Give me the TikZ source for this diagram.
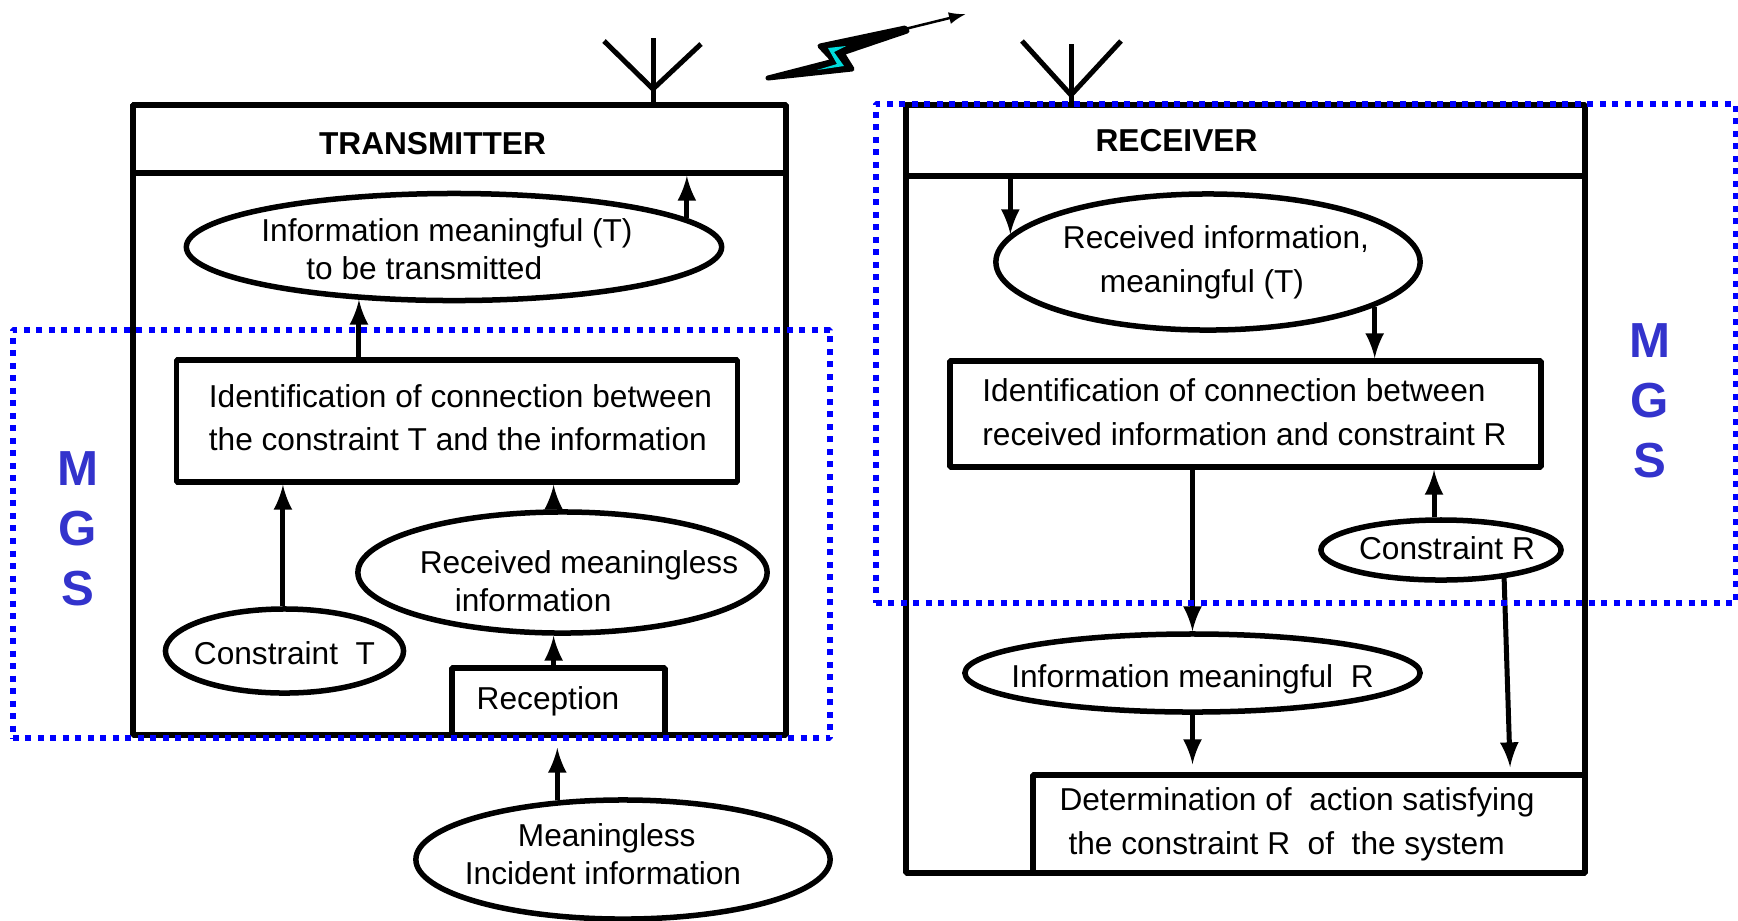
\documentclass[tikz,border=0pt]{standalone}
\usepackage{fontspec}
\setmainfont{Liberation Sans}
\usetikzlibrary{shapes.geometric,arrows.meta}
\definecolor{mgsblue}{RGB}{51,51,204}
\definecolor{boltcyan}{RGB}{0,220,220}

\tikzset{
  txt/.style={font=\fontsize{9}{11}\selectfont,align=left},
  casebox/.style={draw,line width=0.065cm,rectangle,inner sep=0pt},
  headbox/.style={casebox,line width=0.055cm,font=\fontsize{9}{11}\bfseries\selectfont},
  stepbox/.style={txt,draw,line width=0.055cm,rectangle,inner sep=0pt},
  ovalbox/.style={txt,draw,line width=0.055cm,ellipse,inner sep=-10pt},
  flow/.style={black,->,line width=0.05cm},
  antenna/.style={line width=0.05cm},
  mgsbox/.style={draw=blue,line width=0.055cm,rectangle,dash pattern=on 0.06cm off 0.065cm,inner sep=0pt},
  mgsmark/.style={text=mgsblue,align=center,font=\fontsize{14}{17}\bfseries\selectfont},
}

\begin{document}
\begin{tikzpicture}[>=latex,line join=bevel,x=0.01cm,y=-0.01cm]
%%
  \useasboundingbox (0,0) rectangle (1738,920);

  % transmitter
  \node (tx_box) at (459.5,420) [casebox,minimum width=6.53cm,minimum height=6.30cm] {};
  \node (tx_head) at (459.5,139) [headbox,minimum width=6.53cm,minimum height=0.68cm] {\rule{0pt}{0.32cm}TRANSMITTER\hspace*{0.54cm}};

  \node (tx_info) at (454,247) [ovalbox,minimum width=5.35cm,minimum height=1.07cm] {\rule{0pt}{0.275cm}Information meaningful (T)\hspace*{0.14cm}\\ \hspace*{0.45cm}to be transmitted};

  \node (ident_t) at (457,421) [stepbox,minimum width=5.61cm,minimum height=1.22cm] {\hspace*{0.07cm}Identification of connection between\\[0.05cm] \hspace*{0.07cm}the constraint T and the information\rule[-0.07cm]{0pt}{0.07cm}};

  \node (recv_ml) at (562.5,572.5) [ovalbox,minimum width=4.09cm,minimum height=1.21cm] {\rule{0pt}{0.4cm}\hspace*{0.33cm}Received meaningless\\ \hspace*{0.68cm}information};

  \node (constraint_t) at (284.5,651) [ovalbox,minimum width=2.38cm,minimum height=0.84cm] {\rule{0pt}{0.275cm}Constraint\ \ T};

  \node (reception) at (558.5,701.5) [stepbox,minimum width=2.13cm,minimum height=0.67cm] {Reception\hspace*{0.21cm}};

  \node (incident) at (623,859.5) [ovalbox,minimum width=4.14cm,minimum height=1.19cm] {\hspace*{0.53cm}Meaningless\\ Incident information\hspace*{0.4cm}\rule[-0.11cm]{0pt}{0.11cm}};

  % receiver
  \node (rx_box) at (1245.5,489) [casebox,minimum width=6.79cm,minimum height=7.68cm] {};
  \node (rx_head) at (1245.5,140.5) [headbox,minimum width=6.79cm,minimum height=0.71cm] {RECEIVER\hspace*{1.38cm}};

  \node (recv_info) at (1208,262) [ovalbox,minimum width=4.24cm,minimum height=1.36cm] {\hspace*{0.16cm}Received information,\\[0.05cm] \hspace*{0.53cm}meaningful (T)};

  \node (ident_r) at (1245.5,414) [stepbox,minimum width=5.91cm,minimum height=1.06cm] {Identification of connection between\\[0.05cm] received information and constraint R\rule[-0.045cm]{0pt}{0.045cm}\hspace*{0.02cm}};

  \node (constraint_r) at (1441,550) [ovalbox,minimum width=2.40cm,minimum height=0.60cm] {\hspace*{0.12cm}Constraint R\rule[-0.045cm]{0pt}{0.045cm}};

  \node (info_r) at (1192.5,673) [ovalbox,minimum width=4.55cm,minimum height=0.78cm] {\rule{0pt}{0.36cm}Information meaningful\ \ R};

  \node (determ) at (1309,824) [stepbox,minimum width=5.52cm,minimum height=0.98cm] {Determination of\ \ action satisfying\hspace*{0.24cm}\\[0.05cm] \hspace*{0.09cm}the constraint R\ \ of\ \ the system};

  % transmitter arrows
  \draw [flow] (tx_info.7) to (tx_info.7 |- tx_head.south);
  \draw [flow] (tx_info.209.5 |- ident_t.north) to (tx_info.209.5);
  \draw [flow] (constraint_t.92) to (constraint_t.92 |- ident_t.south);
  \draw [flow] (recv_ml.98) to (recv_ml.98 |- ident_t.south);
  \draw [flow] (recv_ml.262 |- reception.north) to (recv_ml.262);
  \coordinate (reception_in) at ([yshift=-0.1cm]reception.south);
  \draw [flow] (incident.138.5) to (incident.138.5 |- reception_in);

  % receiver arrows
  \draw [flow] (recv_info.172 |- rx_head.south) to (recv_info.172);
  \draw [flow] (recv_info.-15.5) to (recv_info.-15.5 |- ident_r.north);
  \draw [flow] (info_r.north |- ident_r.south) to (info_r.north);
  \draw [flow] (constraint_r.102) to (constraint_r.102 |- ident_r.south);
  \coordinate (determ_in) at ([yshift=0.08cm]determ.north);
  \draw [flow] (info_r.south) to (info_r.south |- determ_in);
  \coordinate (determ_side) at ([xshift=2.01cm,yshift=0.05cm]determ.north);
  \draw [flow] (constraint_r.-24) to (determ_side);

  % antennas
  \coordinate (ant_t_top) at (653,38);
  \coordinate (ant_t_hub) at (653,89);
  \draw [antenna] (ant_t_top) -- (ant_t_top |- tx_head.north);
  \draw [antenna] (604,41) -- (ant_t_hub) -- (701,44);
  \coordinate (ant_r_top) at (1071,44);
  \coordinate (ant_r_hub) at (1071,95);
  \draw [antenna] (ant_r_top) -- (ant_r_top |- rx_head.north);
  \draw [antenna] (1022,41) -- (ant_r_hub) -- (1121,41);

  % lightning
  \draw [fill=black,line width=0.05cm,line join=round] (768,78) -- (834,61) -- (820,46) -- (905,28) -- (907,31) -- (842,53) -- (852,69) -- cycle;
  \fill [boltcyan] (828,48) -- (846,46) -- (834,52) -- (844,66) -- (817,70) -- (837,64) -- cycle;
  \coordinate (bolt_tip) at (905,29);
  \coordinate (bolt_end) at (966,14);
  \draw [-{Latex[length=0.17cm,width=0.12cm]},line width=0.025cm] (bolt_tip) -- (bolt_end);

  % MGS frames
  \node (mgs_t) at (421.5,534) [mgsbox,minimum width=8.17cm,minimum height=4.08cm] {};
  \node (mgs_r) at (1305.5,353.5) [mgsbox,minimum width=8.59cm,minimum height=4.99cm] {};
  \node (mgs_t_mark) at (78,529) [mgsmark] {M\\G\\S};
  \node (mgs_r_mark) at (1650,401) [mgsmark] {M\\G\\S};
%
\end{tikzpicture}
\end{document}
